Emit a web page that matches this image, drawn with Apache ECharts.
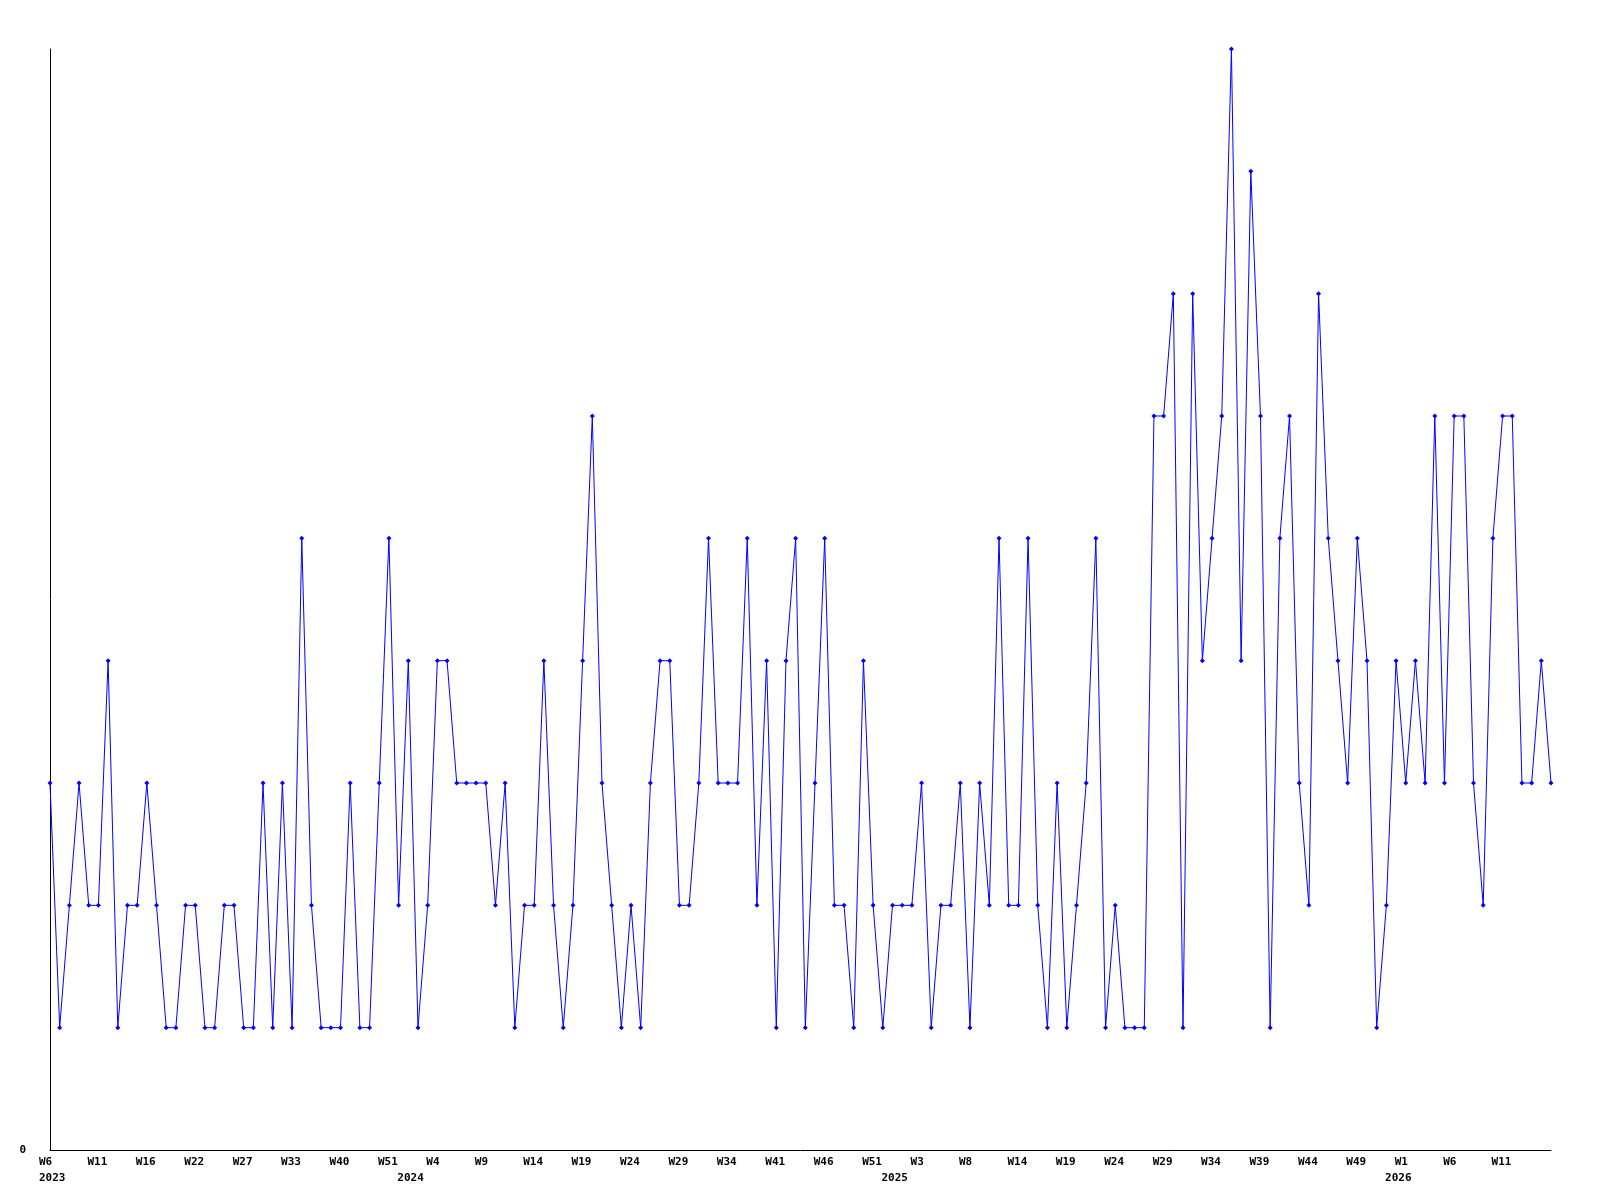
<!DOCTYPE html>
<html>
<head>
<meta charset="utf-8">
<script src="https://cdn.jsdelivr.net/npm/echarts@6/dist/echarts.min.js"></script>
<style>
html,body{margin:0;padding:0;background:#fff;}
#chart{width:1600px;height:1200px;}
</style>
</head>
<body>
<div id="chart"></div>
<script>
var weeks = [
 "2023-W06","2023-W07","2023-W08","2023-W09","2023-W10",
 "2023-W11","2023-W12","2023-W13","2023-W14","2023-W15",
 "2023-W16","2023-W17","2023-W18","2023-W19","2023-W20",
 "2023-W22","2023-W23","2023-W24","2023-W25","2023-W26",
 "2023-W27","2023-W28","2023-W29","2023-W30","2023-W31",
 "2023-W33","2023-W34","2023-W35","2023-W36","2023-W38",
 "2023-W40","2023-W42","2023-W44","2023-W46","2023-W48",
 "2023-W51","2023-W52","2024-W00","2024-W01","2024-W02",
 "2024-W04","2024-W05","2024-W06","2024-W07","2024-W08",
 "2024-W09","2024-W10","2024-W11","2024-W12","2024-W13",
 "2024-W14","2024-W15","2024-W16","2024-W17","2024-W18",
 "2024-W19","2024-W20","2024-W21","2024-W22","2024-W23",
 "2024-W24","2024-W25","2024-W26","2024-W27","2024-W28",
 "2024-W29","2024-W30","2024-W31","2024-W32","2024-W33",
 "2024-W34","2024-W35","2024-W37","2024-W38","2024-W40",
 "2024-W41","2024-W42","2024-W43","2024-W44","2024-W45",
 "2024-W46","2024-W47","2024-W48","2024-W49","2024-W50",
 "2024-W51","2024-W52","2025-W00","2025-W01","2025-W02",
 "2025-W03","2025-W04","2025-W05","2025-W06","2025-W07",
 "2025-W08","2025-W09","2025-W10","2025-W11","2025-W13",
 "2025-W14","2025-W15","2025-W16","2025-W17","2025-W18",
 "2025-W19","2025-W20","2025-W21","2025-W22","2025-W23",
 "2025-W24","2025-W25","2025-W26","2025-W27","2025-W28",
 "2025-W29","2025-W30","2025-W31","2025-W32","2025-W33",
 "2025-W34","2025-W35","2025-W36","2025-W37","2025-W38",
 "2025-W39","2025-W40","2025-W41","2025-W42","2025-W43",
 "2025-W44","2025-W45","2025-W46","2025-W47","2025-W48",
 "2025-W49","2025-W50","2025-W51","2025-W52","2026-W00",
 "2026-W01","2026-W02","2026-W03","2026-W04","2026-W05",
 "2026-W06","2026-W07","2026-W08","2026-W09","2026-W10",
 "2026-W11","2026-W12","2026-W13","2026-W14","2026-W15","2026-W16"
];

var counts = [
 3,1,2,3,2,2,4,1,2,2,
 3,2,1,1,2,2,1,1,2,2,
 1,1,3,1,3,1,5,2,1,1,
 1,3,1,1,3,5,2,4,1,2,
 4,4,3,3,3,3,2,3,1,2,
 2,4,2,1,2,4,6,3,2,1,
 2,1,3,4,4,2,2,3,5,3,
 3,3,5,2,4,1,4,5,1,3,
 5,2,2,1,4,2,1,2,2,2,
 3,1,2,2,3,1,3,2,5,2,
 2,5,2,1,3,1,2,3,5,1,
 2,1,1,1,6,6,7,1,7,4,
 5,6,9,4,8,6,1,5,6,3,
 2,7,5,4,3,5,4,1,2,4,
 3,4,3,6,3,6,6,3,2,5,
 6,6,3,3,4,3
];

var yTickLabels = ["0"];

function yearOf(i){ return weeks[i].split("-")[0]; }
function weekOf(i){ return "W" + parseInt(weeks[i].split("-W")[1], 10); }

var font = {fontFamily: "DejaVu Sans Mono", fontWeight: "bold", fontSize: 11, color: "#000"};

var chart = echarts.init(document.getElementById("chart"), null, {renderer: "canvas"});
chart.setOption({
  animation: false,
  backgroundColor: "#fff",
  grid: [
    {left: 50, right: 49, top: 49, bottom: 50, containLabel: false},
    {left: 39, right: 60, top: 49, bottom: 50, containLabel: false}
  ],
  xAxis: [{
    type: "category",
    gridIndex: 0,
    data: weeks,
    boundaryGap: false,
    axisLine: {show: true, lineStyle: {color: "#000", width: 1}},
    axisTick: {show: false},
    splitLine: {show: false},
    axisLabel: {show: false}
  }, {
    type: "category",
    gridIndex: 1,
    data: weeks,
    boundaryGap: false,
    axisLine: {show: false},
    axisTick: {show: false},
    splitLine: {show: false},
    axisLabel: Object.assign({
      interval: function(i){ return i % 5 === 0 && i < weeks.length - 1; },
      align: "left",
      margin: 7,
      formatter: function(v, i){ return weekOf(i); }
    }, font)
  }, {
    type: "category",
    gridIndex: 1,
    data: weeks,
    position: "bottom",
    boundaryGap: false,
    offset: 16,
    axisLine: {show: false},
    axisTick: {show: false},
    splitLine: {show: false},
    axisLabel: Object.assign({
      interval: function(i){ return i === 0 || yearOf(i) !== yearOf(i - 1); },
      align: "left",
      margin: 7,
      formatter: function(v, i){ return yearOf(i); }
    }, font)
  }],
  yAxis: [{
    type: "value",
    gridIndex: 0,
    min: 0,
    max: 9,
    interval: 9,
    axisLine: {show: true, lineStyle: {color: "#000", width: 1}},
    axisTick: {show: false},
    splitLine: {show: false},
    axisLabel: Object.assign({
      margin: 24,
      formatter: function(v){ return v === 0 ? yTickLabels[0] : ""; }
    }, font)
  }, {
    type: "value",
    gridIndex: 1,
    min: 0,
    max: 9,
    show: false
  }],
  series: [{
    type: "line",
    data: counts,
    xAxisIndex: 0,
    yAxisIndex: 0,
    symbol: "diamond",
    symbolSize: 5,
    showAllSymbol: true,
    lineStyle: {color: "#0000ff", width: 1},
    itemStyle: {color: "#0000ff"}
  }]
});
</script>
</body>
</html>
